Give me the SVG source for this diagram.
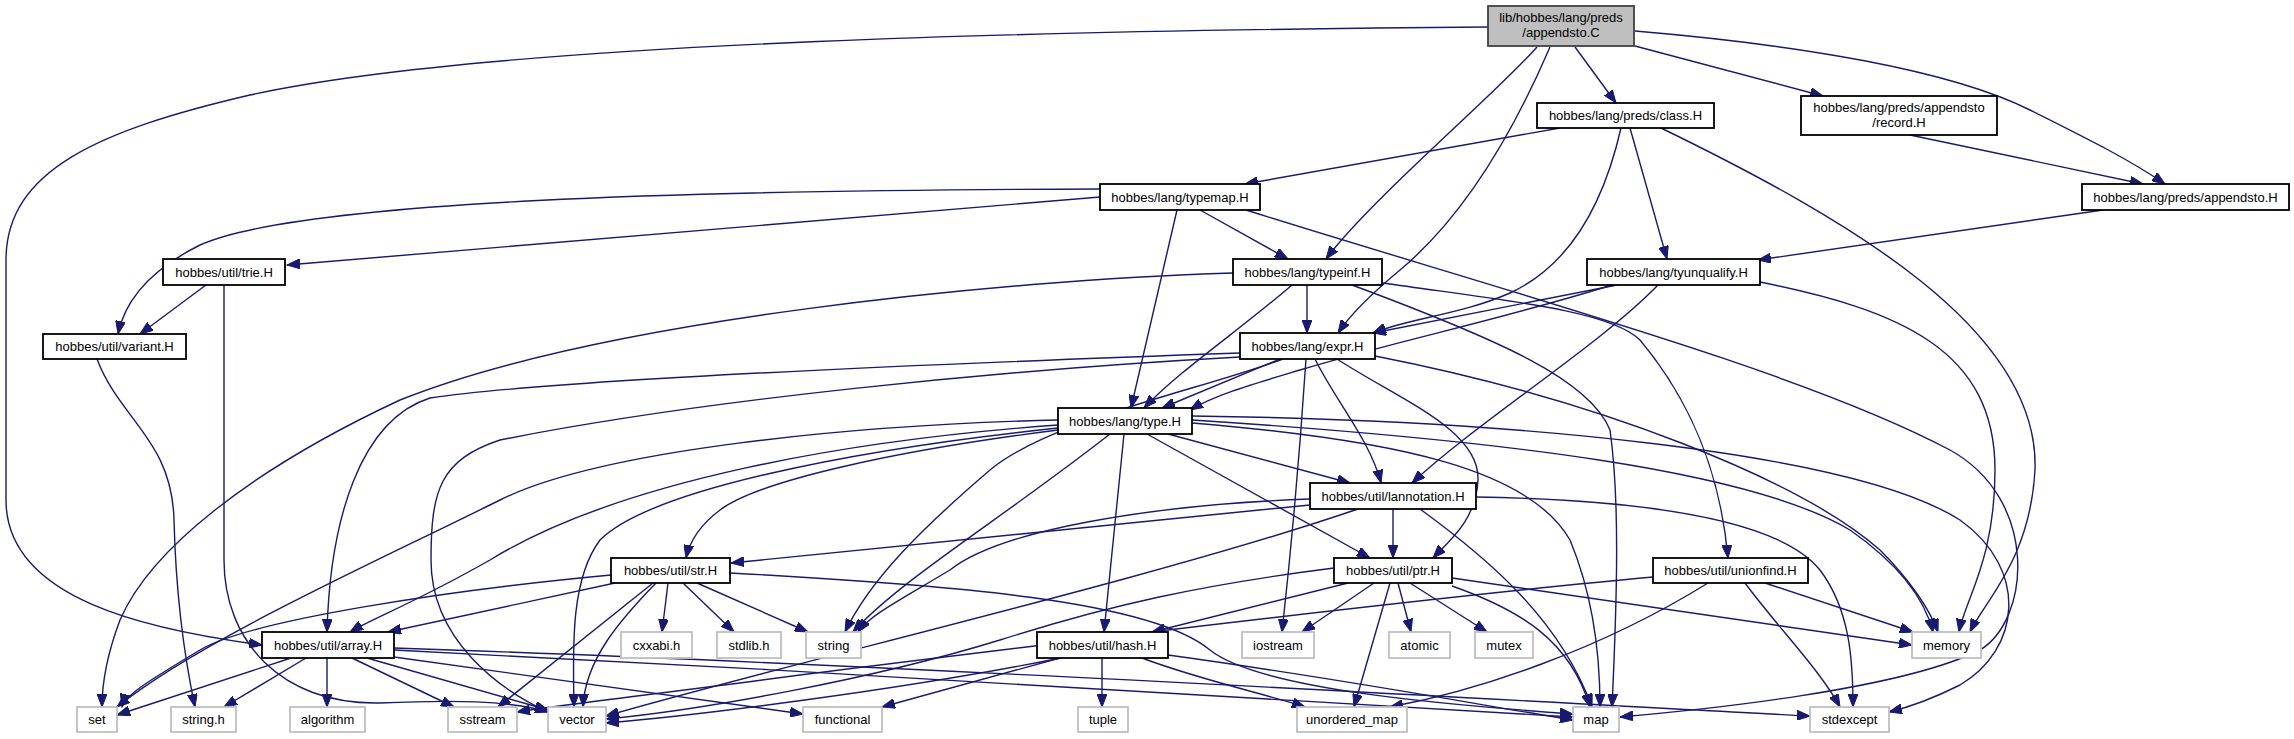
<svg xmlns="http://www.w3.org/2000/svg" width="2294" height="739" viewBox="0 0 2294 739">
<style>
.n rect{fill:#fff;stroke:#000;stroke-width:1.8}
.r rect{fill:#bfbfbf;stroke:#404040;stroke-width:1.8}
.l rect{fill:#fff;stroke:#bfbfbf;stroke-width:1.8}
text{font-family:"Liberation Sans",Arial,sans-serif;font-size:13px;fill:#000;text-anchor:middle}
#edges path{fill:none;stroke:#191970;stroke-width:1.4;marker-end:url(#a)}
</style>
<defs>
<marker id="a" markerUnits="userSpaceOnUse" markerWidth="14" markerHeight="10" refX="13" refY="5" orient="auto">
<path d="M0,0 L13,5 L0,10 z" fill="#191970" stroke="#191970" stroke-width="1"/>
</marker>
</defs>
<rect width="2294" height="739" fill="#fff"/>
<g id="edges">
<path d="M1488,27 C1100,30 500,40 250,95 C100,130 6,170 6,260 L6,500 C6,600 150,630 262,645"/>
<path d="M1575,47 L1616,103"/>
<path d="M1635,46 L1823,96"/>
<path d="M1635,31 C1800,45 1950,70 2030,110 C2090,140 2130,160 2165,184"/>
<path d="M1537,47 C1500,90 1370,200 1326,259"/>
<path d="M1550,47 C1510,140 1460,220 1400,270 C1370,295 1350,315 1338,333"/>
<path d="M1560,128 L1245,184"/>
<path d="M1621,128 C1600,220 1560,270 1510,293 C1460,315 1410,318 1373,333"/>
<path d="M1630,128 L1667,259"/>
<path d="M1661,128 C1850,220 2040,330 2035,470 C2030,560 1985,600 1970,632"/>
<path d="M1910,135 L2143,184"/>
<path d="M2103,210 L1758,260"/>
<path d="M1100,189 C700,190 300,200 200,245 C150,270 125,300 118,334"/>
<path d="M1100,197 L287,265"/>
<path d="M1200,210 L1288,259"/>
<path d="M1177,210 L1131,408"/>
<path d="M1246,210 C1500,290 1800,370 1950,450 C2040,500 2030,620 1980,650 C1900,690 1700,710 1620,717"/>
<path d="M206,285 L140,334"/>
<path d="M224,285 L224,560 C224,640 280,705 380,703 C450,700 510,700 548,712"/>
<path d="M97,359 C120,420 172,440 174,520 C176,600 185,660 195,707"/>
<path d="M1233,273 C1000,280 600,320 400,400 C250,470 150,550 120,620 C105,660 102,690 102,707"/>
<path d="M1307,285 L1307,333"/>
<path d="M1292,285 C1240,330 1180,370 1144,408"/>
<path d="M1352,285 C1500,340 1590,380 1610,430 C1620,500 1617,600 1612,707"/>
<path d="M1383,283 C1500,300 1610,310 1640,340 C1690,400 1720,470 1728,558"/>
<path d="M1617,285 L1373,333"/>
<path d="M1612,285 C1500,320 1400,340 1300,370 C1250,385 1215,395 1190,410"/>
<path d="M1658,285 C1600,345 1480,420 1412,483"/>
<path d="M1760,282 C1900,310 1995,350 1995,470 C1995,560 1965,600 1959,632"/>
<path d="M1240,353 C900,365 550,380 430,398 C360,420 330,520 327,632"/>
<path d="M1240,357 C1000,370 700,400 500,440 C440,460 431,490 431,560 C431,640 500,690 548,712"/>
<path d="M1283,359 C1200,390 1050,420 990,470 C920,530 870,580 845,632"/>
<path d="M1280,359 L1162,408"/>
<path d="M1315,359 C1335,400 1370,440 1381,483"/>
<path d="M1337,359 C1400,400 1480,430 1478,480 C1476,520 1450,540 1433,558"/>
<path d="M1306,359 C1300,450 1290,560 1282,632"/>
<path d="M1375,356 C1600,400 1800,480 1880,550 C1910,580 1930,610 1938,632"/>
<path d="M1058,420 C850,425 600,450 500,500 C380,560 200,640 117,707"/>
<path d="M1058,425 C850,440 620,480 490,560 C420,600 370,620 350,632"/>
<path d="M1058,430 C900,450 760,480 720,510 C700,525 690,540 686,558"/>
<path d="M1058,428 C850,450 650,490 600,540 C570,580 573,650 574,707"/>
<path d="M1110,434 C1000,520 900,580 853,632"/>
<path d="M1124,434 L1104,632"/>
<path d="M1168,434 L1350,483"/>
<path d="M1147,434 L1370,558"/>
<path d="M1192,423 C1400,440 1530,470 1570,540 C1595,600 1600,660 1600,707"/>
<path d="M1192,420 C1500,440 1750,470 1850,530 C1900,565 1925,600 1933,632"/>
<path d="M1192,416 C1500,420 1850,450 1960,520 C2030,570 2020,650 1960,685 C1930,700 1910,707 1889,712"/>
<path d="M1310,505 L731,563"/>
<path d="M1310,499 C1150,505 1000,530 950,570 C900,600 870,615 858,632"/>
<path d="M1358,509 C1150,580 800,660 606,716"/>
<path d="M1393,509 L1393,558"/>
<path d="M1420,509 C1490,560 1560,620 1592,707"/>
<path d="M1476,497 C1650,500 1780,520 1820,570 C1850,610 1853,660 1853,707"/>
<path d="M611,575 C450,590 250,620 200,650 C150,680 125,695 122,707"/>
<path d="M615,583 L388,632"/>
<path d="M653,583 L498,707"/>
<path d="M656,583 C620,620 585,660 583,707"/>
<path d="M668,583 L662,632"/>
<path d="M683,583 L734,632"/>
<path d="M697,583 L808,632"/>
<path d="M730,573 C950,585 1150,600 1210,650 C1260,690 1450,705 1573,714"/>
<path d="M1334,568 C1200,585 1110,605 1000,640 C870,680 700,710 606,719"/>
<path d="M1348,583 L1152,632"/>
<path d="M1374,583 L1302,632"/>
<path d="M1390,583 L1354,707"/>
<path d="M1398,583 L1411,632"/>
<path d="M1410,583 L1487,632"/>
<path d="M1452,586 C1520,610 1570,640 1590,707"/>
<path d="M1452,578 L1912,645"/>
<path d="M1653,577 C1400,600 1000,650 800,675 C650,695 560,705 517,712"/>
<path d="M1708,583 C1600,650 1480,690 1390,707"/>
<path d="M1765,583 L1913,632"/>
<path d="M1745,583 C1780,630 1820,670 1840,707"/>
<path d="M1061,658 C900,690 700,715 606,723"/>
<path d="M1060,658 L882,707"/>
<path d="M1102,658 L1102,707"/>
<path d="M1142,658 C1200,680 1270,695 1305,707"/>
<path d="M1168,655 C1350,680 1480,705 1573,720"/>
<path d="M291,658 L117,715"/>
<path d="M306,658 L224,707"/>
<path d="M327,658 L327,707"/>
<path d="M352,658 L454,707"/>
<path d="M367,658 L548,710"/>
<path d="M394,657 L803,714"/>
<path d="M394,650 C800,670 1300,700 1573,717"/>
<path d="M394,648 C900,665 1500,700 1810,716"/>
</g>
<g id="root" class="r"><rect x="1488" y="6" width="146" height="40"/><text x="1561" y="22">lib/hobbes/lang/preds</text><text x="1561" y="37">/appendsto.C</text></g>
<g id="class" class="n"><rect x="1537" y="103" width="177" height="25"/><text x="1625.5" y="120">hobbes/lang/preds/class.H</text></g>
<g id="record" class="n"><rect x="1801" y="96" width="196" height="39"/><text x="1899" y="112">hobbes/lang/preds/appendsto</text><text x="1899" y="127">/record.H</text></g>
<g id="appendstoH" class="n"><rect x="2082" y="184" width="207" height="26"/><text x="2185.5" y="201.5">hobbes/lang/preds/appendsto.H</text></g>
<g id="typemap" class="n"><rect x="1100" y="184" width="160" height="26"/><text x="1180" y="201.5">hobbes/lang/typemap.H</text></g>
<g id="typeinf" class="n"><rect x="1233" y="259" width="149" height="26"/><text x="1307.5" y="276.5">hobbes/lang/typeinf.H</text></g>
<g id="tyunqualify" class="n"><rect x="1587" y="259" width="173" height="26"/><text x="1673.5" y="276.5">hobbes/lang/tyunqualify.H</text></g>
<g id="trie" class="n"><rect x="163" y="259" width="122" height="26"/><text x="224" y="276.5">hobbes/util/trie.H</text></g>
<g id="variant" class="n"><rect x="43" y="334" width="143" height="25"/><text x="114.5" y="351">hobbes/util/variant.H</text></g>
<g id="expr" class="n"><rect x="1240" y="333" width="135" height="26"/><text x="1307.5" y="350.5">hobbes/lang/expr.H</text></g>
<g id="type" class="n"><rect x="1058" y="408" width="134" height="26"/><text x="1125" y="425.5">hobbes/lang/type.H</text></g>
<g id="lannotation" class="n"><rect x="1310" y="483" width="166" height="26"/><text x="1393" y="500.5">hobbes/util/lannotation.H</text></g>
<g id="str" class="n"><rect x="611" y="558" width="119" height="25"/><text x="670.5" y="575">hobbes/util/str.H</text></g>
<g id="ptr" class="n"><rect x="1334" y="558" width="118" height="25"/><text x="1393" y="575">hobbes/util/ptr.H</text></g>
<g id="unionfind" class="n"><rect x="1653" y="558" width="155" height="25"/><text x="1730.5" y="575">hobbes/util/unionfind.H</text></g>
<g id="array" class="n"><rect x="262" y="632" width="132" height="26"/><text x="328" y="649.5">hobbes/util/array.H</text></g>
<g id="hash" class="n"><rect x="1037" y="632" width="131" height="26"/><text x="1102.5" y="649.5">hobbes/util/hash.H</text></g>
<g id="cxxabi" class="l"><rect x="621" y="632" width="71" height="26"/><text x="656.5" y="649.5">cxxabi.h</text></g>
<g id="stdlib" class="l"><rect x="717" y="632" width="64" height="26"/><text x="749" y="649.5">stdlib.h</text></g>
<g id="string" class="l"><rect x="806" y="632" width="55" height="26"/><text x="833.5" y="649.5">string</text></g>
<g id="iostream" class="l"><rect x="1242" y="632" width="72" height="26"/><text x="1278" y="649.5">iostream</text></g>
<g id="atomic" class="l"><rect x="1389" y="632" width="61" height="26"/><text x="1419.5" y="649.5">atomic</text></g>
<g id="mutex" class="l"><rect x="1475" y="632" width="58" height="26"/><text x="1504" y="649.5">mutex</text></g>
<g id="memory" class="l"><rect x="1912" y="632" width="69" height="26"/><text x="1946.5" y="649.5">memory</text></g>
<g id="set" class="l"><rect x="77" y="707" width="40" height="25"/><text x="97" y="724">set</text></g>
<g id="stringh" class="l"><rect x="171" y="707" width="65" height="25"/><text x="203.5" y="724">string.h</text></g>
<g id="algorithm" class="l"><rect x="290" y="707" width="75" height="25"/><text x="327.5" y="724">algorithm</text></g>
<g id="sstream" class="l"><rect x="448" y="707" width="69" height="25"/><text x="482.5" y="724">sstream</text></g>
<g id="vector" class="l"><rect x="548" y="707" width="58" height="25"/><text x="577" y="724">vector</text></g>
<g id="functional" class="l"><rect x="803" y="707" width="79" height="25"/><text x="842.5" y="724">functional</text></g>
<g id="tuple" class="l"><rect x="1078" y="707" width="50" height="25"/><text x="1103" y="724">tuple</text></g>
<g id="unordered_map" class="l"><rect x="1297" y="707" width="110" height="25"/><text x="1352" y="724">unordered_map</text></g>
<g id="map" class="l"><rect x="1573" y="707" width="46" height="25"/><text x="1596" y="724">map</text></g>
<g id="stdexcept" class="l"><rect x="1810" y="707" width="79" height="25"/><text x="1849.5" y="724">stdexcept</text></g>
</svg>
